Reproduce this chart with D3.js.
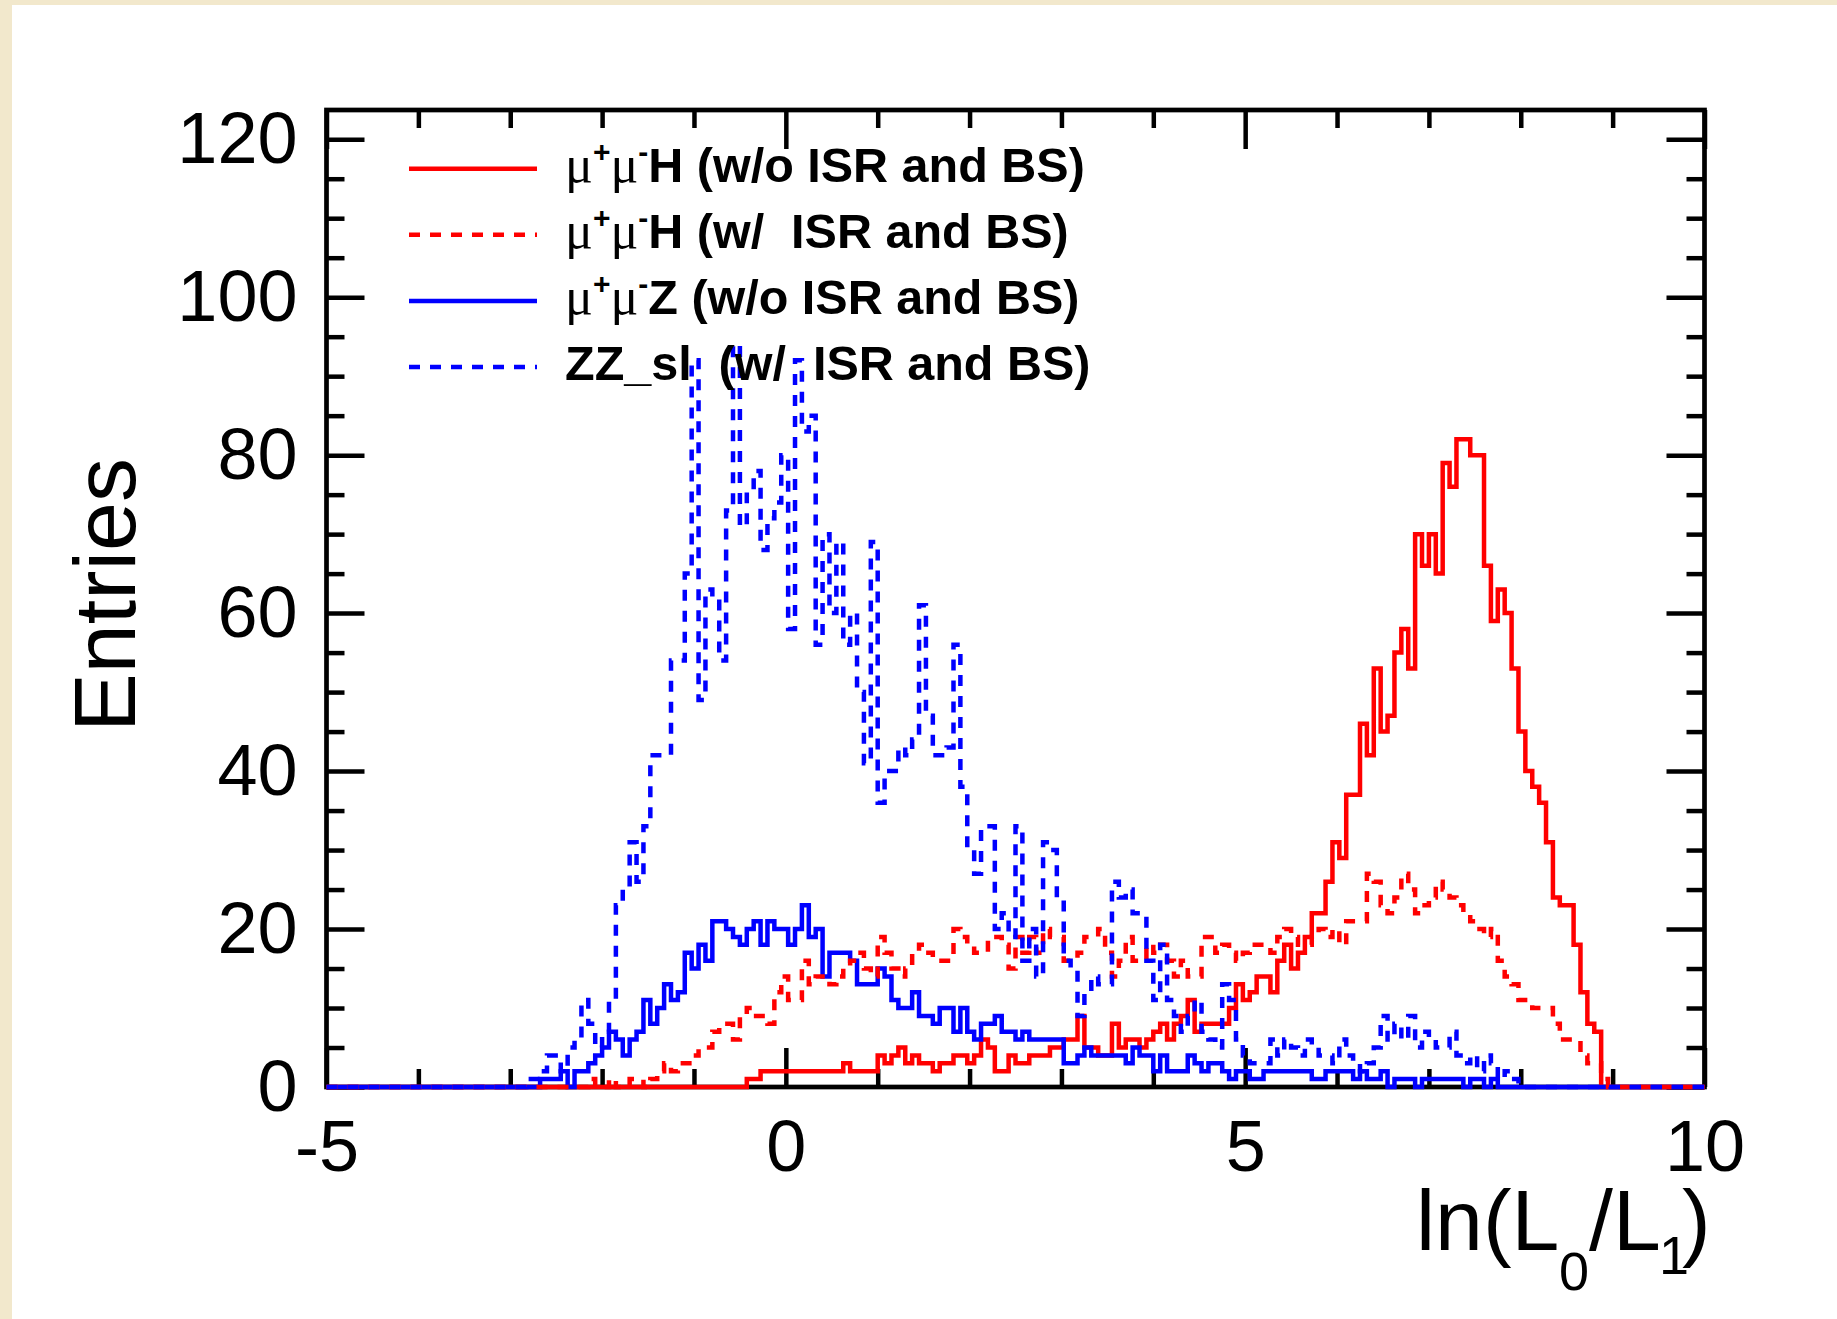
<!DOCTYPE html>
<html>
<head>
<meta charset="utf-8">
<script src="https://cdn.jsdelivr.net/npm/d3@7"></script>
<style>
  body { margin: 0; background: #f2e8cc; }
  text { font-family: "Liberation Sans", Arial, Helvetica, sans-serif; }
</style>
</head>
<body>
<div id="chart"></div>
<script>
// histogram binning: 200 bins of 0.075 from -5 to 10
var binLow = -5;
var binWidth = 0.075;

// mu+mu-H (w/o ISR and BS)
var hNoIsr = [
  0,0,0,0,0,0,0,0,0,0,0,0,0,0,0,0,0,0,0,0,
  0,0,0,0,0,0,0,0,0,0,0,0,0,0,0,0,0,0,0,0,
  0,0,0,0,0,0,0,0,0,0,0,0,0,0,0,0,0,0,0,0,
  0,1,1,2,2,2,2,2,2,2,2,2,2,2,2,3,2,2,2,2,
  4,3,4,5,3,4,3,3,2,3,3,4,4,3,4,6,5,2,2,4,
  3,3,4,4,4,5,5,6,6,9,5,5,4,4,8,5,6,6,5,6,
  7,8,6,8,9,11,7,8,8,8,8,10,13,11,12,14,14,12,16,18,
  15,17,19,22,22,26,31,29,37,37,46,42,53,45,47,55,58,53,70,66,
  70,65,79,76,82,82,80,80,66,59,63,60,53,45,40,38,36,31,24,23,
  23,18,12,8,7,0,0,0,0,0,0,0,0,0,0,0,0,0,0,0
];

// mu+mu-H (w/ ISR and BS)
var hIsr = [
  0,0,0,0,0,0,0,0,0,0,0,0,0,0,0,0,0,0,0,0,
  0,0,0,0,0,0,0,0,0,0,0,0,0,0,0,0,0,0,1,0,
  0,1,0,0,1,1,0,1,2,3,2,3,3,4,5,5,7,8,8,6,
  9,10,9,9,8,12,14,11,11,16,13,14,14,13,14,15,16,17,15,14,
  19,17,15,14,15,17,18,17,16,16,16,20,19,18,17,17,19,19,18,15,
  19,17,19,17,20,19,19,16,16,17,19,19,20,17,14,16,19,16,16,18,
  17,18,16,14,16,14,14,19,19,17,18,17,16,17,18,18,18,17,19,20,
  19,18,18,19,20,19,20,18,21,21,21,27,26,23,22,24,27,25,22,23,
  24,26,25,24,23,22,21,20,19,20,16,14,13,11,11,10,10,10,8,6,
  6,6,4,3,3,1,0,0,0,0,0,0,0,0,0,0,0,0,0,0
];

// mu+mu-Z (w/o ISR and BS)
var zNoIsr = [
  0,0,0,0,0,0,0,0,0,0,0,0,0,0,0,0,0,0,0,0,
  0,0,0,0,0,0,0,0,0,0,0,1,1,1,2,0,2,2,3,4,
  5,7,6,4,6,7,11,8,10,13,11,12,17,15,18,16,21,21,20,19,
  18,20,21,18,21,20,20,18,20,23,19,20,14,17,17,17,16,13,13,13,
  15,14,11,10,10,12,9,9,8,10,10,7,10,7,6,8,8,9,7,7,
  6,7,6,6,6,6,6,3,3,4,5,4,4,4,4,4,3,5,4,4,
  2,4,2,2,2,4,3,2,3,3,2,1,2,2,1,1,2,2,2,2,
  2,2,2,1,1,2,2,2,2,1,2,1,1,2,0,1,1,1,0,1,
  1,1,1,1,1,0,1,1,0,1,0,0,0,0,0,0,0,0,0,0,
  0,0,0,0,0,0,0,0,0,0,0,0,0,0,0,0,0,0,0,0
];

// ZZ_sl (w/ ISR and BS)
var zzIsr = [
  0,0,0,0,0,0,0,0,0,0,0,0,0,0,0,0,0,0,0,0,
  0,0,0,0,0,0,0,0,0,1,1,2,4,4,2,5,6,11,8,5,
  7,11,23,25,31,26,33,42,42,42,54,54,65,92,49,63,62,54,73,94,
  71,75,78,68,72,74,80,58,92,83,85,56,70,60,69,56,60,50,41,69,
  36,40,40,43,42,44,61,47,42,42,43,56,38,30,27,33,33,20,22,19,
  33,16,20,14,31,30,24,16,15,9,12,14,13,13,26,24,25,22,22,16,
  11,18,11,9,7,9,11,7,6,5,13,11,6,4,3,3,3,6,4,6,
  5,4,6,5,4,4,3,6,4,3,2,3,5,9,6,8,6,9,5,7,
  6,5,5,7,4,3,4,2,4,3,1,2,1,0,0,0,0,0,0,0,
  0,0,0,0,0,0,0,0,0,0,0,0,0,0,0,0,0,0,0,0
];

var xMajor = [-5, 0, 5, 10];
var xMinor = [-4, -3, -2, -1, 1, 2, 3, 4, 6, 7, 8, 9];
var yMajor = [0, 20, 40, 60, 80, 100, 120];
var yMinor = [5, 10, 15, 25, 30, 35, 45, 50, 55, 65, 70, 75, 85, 90, 95, 105, 110, 115];

var legendPrefix = ["\u03bc+\u03bc-", "\u03bc+\u03bc-", "\u03bc+\u03bc-", ""];
var legendNames = ["H (w/o ISR and BS)", "H (w/  ISR and BS)", "Z (w/o ISR and BS)", "ZZ_sl  (w/  ISR and BS)"];

var svgWidth = 1837;
var svgHeight = 1319;
var frame = { left: 326.5, right: 1704.5, top: 110, bottom: 1087 };

var svg = d3.select("#chart")
  .append("svg")
  .attr("width", svgWidth)
  .attr("height", svgHeight);

// beige slide edge, white page
svg.append("rect").attr("width", svgWidth).attr("height", svgHeight).attr("fill", "#f2e8cc");
svg.append("rect").attr("x", 12).attr("y", 5)
  .attr("width", svgWidth - 12).attr("height", svgHeight - 5)
  .attr("fill", "#ffffff");

var x = d3.scaleLinear().domain([-5, 10]).range([frame.left, frame.right]);
var y = d3.scaleLinear().domain([0, 123.7]).range([frame.bottom, frame.top]);

function styleAxis(g) {
  g.select(".domain").remove();
  g.selectAll("line").attr("stroke", "#000").attr("stroke-width", 4.5);
  g.selectAll("text")
    .attr("fill", "#000")
    .attr("font-family", "'Liberation Sans', Arial, sans-serif")
    .attr("font-size", 72);
}

// axes: ticks point inside the frame
svg.append("g").attr("transform", `translate(0, ${frame.bottom})`)
  .call(d3.axisBottom(x).tickValues(xMajor).tickSizeInner(-39).tickSizeOuter(0)
    .tickPadding(33).tickFormat(d => String(d)))
  .call(styleAxis);
svg.append("g").attr("transform", `translate(0, ${frame.bottom})`)
  .call(d3.axisBottom(x).tickValues(xMinor).tickSizeInner(-18).tickSizeOuter(0).tickFormat(""))
  .call(styleAxis);
svg.append("g").attr("transform", `translate(0, ${frame.top})`)
  .call(d3.axisTop(x).tickValues(xMajor).tickSizeInner(-39).tickSizeOuter(0).tickFormat(""))
  .call(styleAxis);
svg.append("g").attr("transform", `translate(0, ${frame.top})`)
  .call(d3.axisTop(x).tickValues(xMinor).tickSizeInner(-18).tickSizeOuter(0).tickFormat(""))
  .call(styleAxis);

svg.append("g").attr("transform", `translate(${frame.left}, 0)`)
  .call(d3.axisLeft(y).tickValues(yMajor).tickSizeInner(-38).tickSizeOuter(0)
    .tickPadding(29).tickFormat(d => String(d)))
  .call(styleAxis);
svg.append("g").attr("transform", `translate(${frame.left}, 0)`)
  .call(d3.axisLeft(y).tickValues(yMinor).tickSizeInner(-18).tickSizeOuter(0).tickFormat(""))
  .call(styleAxis);
svg.append("g").attr("transform", `translate(${frame.right}, 0)`)
  .call(d3.axisRight(y).tickValues(yMajor).tickSizeInner(-38).tickSizeOuter(0).tickFormat(""))
  .call(styleAxis);
svg.append("g").attr("transform", `translate(${frame.right}, 0)`)
  .call(d3.axisRight(y).tickValues(yMinor).tickSizeInner(-18).tickSizeOuter(0).tickFormat(""))
  .call(styleAxis);

// frame
svg.append("rect")
  .attr("x", frame.left).attr("y", frame.top)
  .attr("width", frame.right - frame.left).attr("height", frame.bottom - frame.top)
  .attr("fill", "none").attr("stroke", "#000").attr("stroke-width", 4.7);

// step histograms
var step = d3.line()
  .x(d => x(d[0]))
  .y(d => y(d[1]))
  .curve(d3.curveStepAfter);

function histPoints(values) {
  var pts = values.map((v, i) => [binLow + i * binWidth, v]);
  pts.push([binLow + values.length * binWidth, values[values.length - 1]]);
  return pts;
}

var series = [
  { values: hNoIsr, color: "#ff0000", dash: null },
  { values: zNoIsr, color: "#0000ff", dash: null },
  { values: hIsr, color: "#ff0000", dash: "11,10" },
  { values: zzIsr, color: "#0000ff", dash: "11,10" }
];

series.forEach(s => {
  svg.append("path")
    .datum(histPoints(s.values))
    .attr("d", step)
    .attr("fill", "none")
    .attr("stroke", s.color)
    .attr("stroke-width", 4.5)
    .attr("stroke-dasharray", s.dash);
});

// legend (same order as the reference)
var legendStyle = [
  { color: "#ff0000", dash: null },
  { color: "#ff0000", dash: "11,10" },
  { color: "#0000ff", dash: null },
  { color: "#0000ff", dash: "11,10" }
];

legendNames.forEach((name, i) => {
  var ly = 168.7 + i * 66.1;
  svg.append("line")
    .attr("x1", 409).attr("x2", 537)
    .attr("y1", ly).attr("y2", ly)
    .attr("stroke", legendStyle[i].color)
    .attr("stroke-width", 4.5)
    .attr("stroke-dasharray", legendStyle[i].dash);

  var t = svg.append("text")
    .attr("x", 565).attr("y", ly + 13)
    .attr("xml:space", "preserve")
    .style("white-space", "pre")
    .attr("font-size", 48.5)
    .attr("font-weight", "bold")
    .attr("fill", "#000");

  if (legendPrefix[i]) {
    t.append("tspan").attr("font-family", "'Liberation Serif', 'DejaVu Serif', serif")
      .attr("font-weight", "normal").attr("font-size", 52).text("\u03bc");
    t.append("tspan").attr("font-size", 30).attr("dy", -20).text("+");
    t.append("tspan").attr("font-family", "'Liberation Serif', 'DejaVu Serif', serif")
      .attr("font-weight", "normal").attr("font-size", 52).attr("dy", 20).text("\u03bc");
    t.append("tspan").attr("font-size", 30).attr("dy", -20).text("-");
    t.append("tspan").attr("dy", 20).text(name);
  } else {
    t.append("tspan").text(name);
  }
});

// axis titles
svg.append("text")
  .attr("transform", "translate(135, 595) rotate(-90)")
  .attr("text-anchor", "middle")
  .attr("font-size", 88)
  .attr("fill", "#000")
  .text("Entries");

var xt = svg.append("text")
  .attr("y", 1250)
  .attr("font-size", 86)
  .attr("fill", "#000");
xt.append("tspan").attr("x", 1416).text("ln(L");
xt.append("tspan").attr("x", 1559).attr("y", 1290).attr("font-size", 54).text("0");
xt.append("tspan").attr("x", 1589).attr("y", 1250).text("/L");
xt.append("tspan").attr("x", 1659).attr("y", 1274).attr("font-size", 54).text("1");
xt.append("tspan").attr("x", 1682).attr("y", 1250).text(")");
</script>
</body>
</html>
